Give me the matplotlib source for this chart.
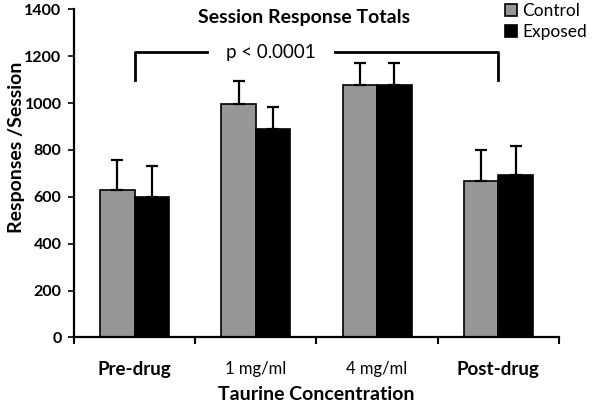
import matplotlib
matplotlib.use("Agg")
import matplotlib.pyplot as plt
import numpy as np

plt.rcParams['font.family'] = ['Lato', 'DejaVu Sans']

# data
categories = ['Pre-drug', '1 mg/ml', '4 mg/ml', 'Post-drug']
control = [630, 997, 1075, 669]
control_err = [126, 96, 97, 130]
exposed = [599, 890, 1075, 693]
exposed_err = [132, 92, 97, 125]
p_text = 'p < 0.0001'

fig = plt.figure(figsize=(6.04, 4.05), dpi=100)
ax = fig.add_axes([0.1225, 0.167, 0.803, 0.81])

x = np.arange(len(categories)) + 0.5
w = 0.285

ax.bar(x - w / 2, control, w, color='#969696', edgecolor='black', linewidth=1.2,
       yerr=[np.zeros(4), control_err], error_kw=dict(ecolor='black', elinewidth=1.6, capsize=4, capthick=1.6),
       label='Control', zorder=2)
ax.bar(x + w / 2, exposed, w, color='black', edgecolor='black', linewidth=1.2,
       yerr=[np.zeros(4), exposed_err], error_kw=dict(ecolor='black', elinewidth=1.6, capsize=4, capthick=1.6),
       label='Exposed', zorder=2)

ax.set_xlim(0, 4)
ax.set_ylim(0, 1400)
ax.set_yticks(np.arange(0, 1401, 200))
for lab in ax.get_yticklabels():
    lab.set_fontweight('bold')
    lab.set_fontsize(11.5)

# ticks at group boundaries, labels at centres
ax.set_xticks(np.arange(0, 5))
ax.set_xticklabels([])
ax.set_xticks(x, minor=True)
ax.set_xticklabels(categories, minor=True)
ax.tick_params(axis='x', which='minor', length=0, pad=17)
ax.tick_params(axis='x', which='major', length=5, width=1.5, direction='out')
ax.tick_params(axis='y', length=4, width=1.2, direction='out', pad=5)
for lab, bold in zip(ax.get_xticklabels(minor=True), [True, False, False, True]):
    lab.set_fontsize(13.5 if bold else 12)
    lab.set_fontweight('bold' if bold else 'normal')

for s in ['top', 'right']:
    ax.spines[s].set_visible(False)
for s in ['left', 'bottom']:
    ax.spines[s].set_linewidth(1.6)

ax.set_xlabel('Taurine Concentration', fontsize=14, fontweight='bold', labelpad=6)
ax.set_ylabel('Responses /Session', fontsize=14, fontweight='bold')
ax.yaxis.set_label_coords(-0.102, 0.58)

# significance bracket from Pre-drug to Post-drug
y_top, y_bot = 1217, 1100
ax.plot([x[0], x[0], 1.096], [y_bot, y_top, y_top], color='black', lw=2, solid_joinstyle='round', zorder=3)
ax.plot([2.15, x[3], x[3]], [y_top, y_top, y_bot], color='black', lw=2, solid_joinstyle='round', zorder=3)
ax.text(1.62, y_top, p_text, ha='center', va='center', fontsize=13.5)

fig.text(0.503, 0.957, 'Session Response Totals', ha='center', va='center', fontsize=14, fontweight='bold')

ax.legend(loc='upper left', bbox_to_anchor=(0.825, 1.01), bbox_transform=fig.transFigure,
          frameon=False, fontsize=12.5, handlelength=0.7, handleheight=0.7, handletextpad=0.3,
          labelspacing=0.3, borderaxespad=0)

fig.savefig('out.png', dpi=100)
